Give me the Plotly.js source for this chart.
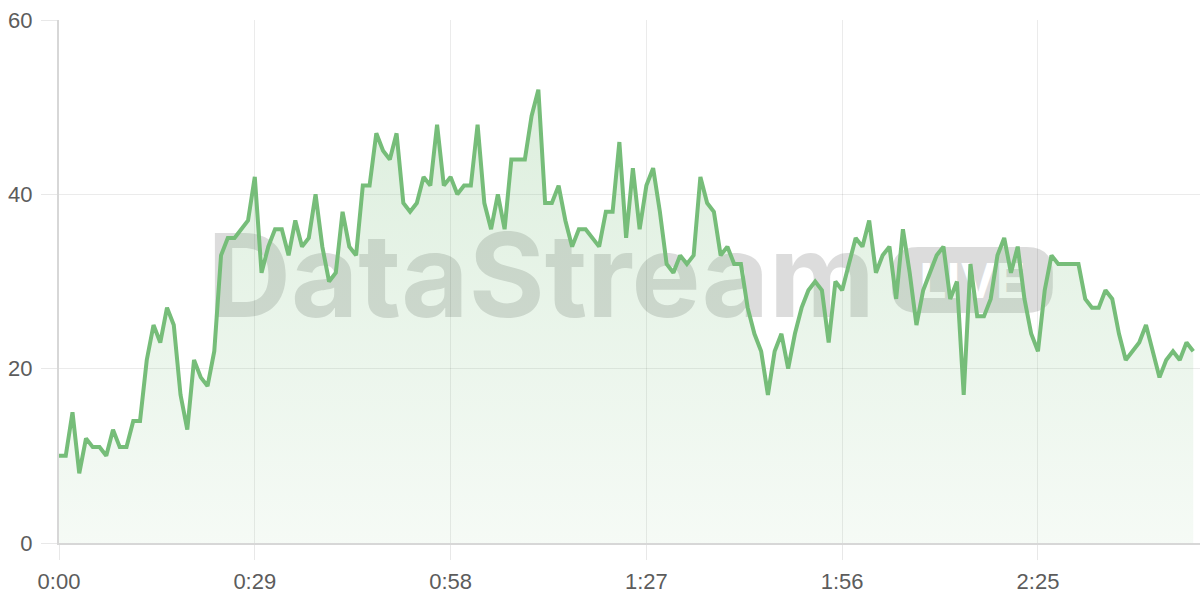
<!DOCTYPE html>
<html>
<head>
<meta charset="utf-8">
<script src="https://cdn.plot.ly/plotly-3.0.1.min.js"></script>
<style>
    html, body { margin: 0; padding: 0; background: #ffffff; }
    #live_plot { width: 1200px; height: 600px; }
</style>
</head>
<body>
<div id="live_plot"></div>
<script>
// values read per second off the stream (0:00 .. 2:48)
const streamValues = [
    10, 10, 15, 8, 12, 11, 11, 10, 13, 11,
    11, 14, 14, 21, 25, 23, 27, 25, 17, 13,
    21, 19, 18, 22, 33, 35, 35, 36, 37, 42,
    31, 34, 36, 36, 33, 37, 34, 35, 40, 34,
    30, 31, 38, 34, 33, 41, 41, 47, 45, 44,
    47, 39, 38, 39, 42, 41, 48, 41, 42, 40,
    41, 41, 48, 39, 36, 40, 36, 44, 44, 44,
    49, 52, 39, 39, 41, 37, 34, 36, 36, 35,
    34, 38, 38, 46, 35, 43, 36, 41, 43, 38,
    32, 31, 33, 32, 33, 42, 39, 38, 33, 34,
    32, 32, 27, 24, 22, 17, 22, 24, 20, 24,
    27, 29, 30, 29, 23, 30, 29, 32, 35, 34,
    37, 31, 33, 34, 28, 36, 31, 25, 29, 31,
    33, 34, 28, 30, 17, 32, 26, 26, 28, 33,
    35, 31, 34, 28, 24, 22, 29, 33, 32, 32,
    32, 32, 28, 27, 27, 29, 28, 24, 21, 22,
    23, 25, 22, 19, 21, 22, 21, 23, 22
];
// one sample per second
const streamSeconds = streamValues.map((v, i) => i);

// x ticks every 29 seconds
const xTickSeconds = [0, 29, 58, 87, 116, 145];
const xTickLabels = ["0:00", "0:29", "0:58", "1:27", "1:56", "2:25"];
const yTickValues = [0, 20, 40, 60];

const watermarkText = "DataStream";
const badgeText = "LIVE";

const lineGreen = "rgb(118,189,121)";
const tickFont = { family: "Liberation Sans, Arial, sans-serif", size: 22, color: "rgb(92,92,92)" };

// prepare trace in plotly format
var data = [{
    x: streamSeconds,
    y: streamValues,
    type: "scatter",
    mode: "lines",
    line: { color: lineGreen, width: 4, shape: "linear" },
    fill: "tozeroy",
    fillgradient: {
        type: "vertical",
        start: 0,
        stop: 52,
        colorscale: [[0, "rgba(118,189,121,0.07)"], [1, "rgba(118,189,121,0.25)"]]
    },
    hoverinfo: "skip"
}];

// rounded badge behind the LIVE text, in paper units
function roundedRect(x0, y0, x1, y1, rx, ry) {
    return "M " + (x0 + rx) + "," + y0 +
        " L " + (x1 - rx) + "," + y0 +
        " Q " + x1 + "," + y0 + " " + x1 + "," + (y0 + ry) +
        " L " + x1 + "," + (y1 - ry) +
        " Q " + x1 + "," + y1 + " " + (x1 - rx) + "," + y1 +
        " L " + (x0 + rx) + "," + y1 +
        " Q " + x0 + "," + y1 + " " + x0 + "," + (y1 - ry) +
        " L " + x0 + "," + (y0 + ry) +
        " Q " + x0 + "," + y0 + " " + (x0 + rx) + "," + y0 + " Z";
}

// prepare graph layout in plotly format
const layout = {
    width: 1200,
    height: 600,
    margin: { l: 59, r: 0, t: 20, b: 57 },
    paper_bgcolor: "#ffffff",
    plot_bgcolor: "#ffffff",
    showlegend: false,
    hovermode: false,
    xaxis: {
        range: [0, 169],
        tickmode: "array",
        tickvals: xTickSeconds,
        ticktext: xTickLabels,
        tickfont: tickFont,
        ticks: "outside",
        ticklen: 15,
        tickcolor: "rgb(232,232,232)",
        ticklabelstandoff: 3,
        showgrid: true,
        gridcolor: "rgba(0,0,0,0.08)",
        gridwidth: 1,
        showline: true,
        linecolor: "rgb(215,215,215)",
        linewidth: 2,
        zeroline: false,
        fixedrange: true
    },
    yaxis: {
        range: [0, 60],
        tickmode: "array",
        tickvals: yTickValues,
        tickfont: tickFont,
        ticks: "outside",
        ticklen: 16,
        tickcolor: "rgb(232,232,232)",
        ticklabelstandoff: 4,
        showgrid: true,
        gridcolor: "rgba(0,0,0,0.08)",
        gridwidth: 1,
        showline: true,
        linecolor: "rgb(215,215,215)",
        linewidth: 2,
        zeroline: false,
        fixedrange: true
    },
    shapes: [
        {
            type: "rect", layer: "between", xref: "paper", yref: "paper",
            x0: 0.10, x1: 0.745, y0: 0.42, y1: 0.62,
            line: { width: 0 }, fillcolor: "rgba(0,0,0,0)",
            label: {
                text: watermarkText,
                textposition: "middle center",
                font: { family: "Inter, Open Sans, sans-serif", size: 116, weight: 700, color: "rgba(110,110,110,0.24)" }
            }
        },
        {
            type: "path", layer: "between", xref: "paper", yref: "paper",
            path: roundedRect(0.730, 0.440, 0.871, 0.566, 0.023, 0.05),
            line: { width: 0 }, fillcolor: "rgba(110,110,110,0.24)"
        },
        {
            type: "rect", layer: "between", xref: "paper", yref: "paper",
            x0: 0.730, x1: 0.871, y0: 0.440, y1: 0.566,
            line: { width: 0 }, fillcolor: "rgba(0,0,0,0)",
            label: {
                text: badgeText,
                textposition: "middle center",
                font: { family: "Inter, Open Sans, sans-serif", size: 48, weight: 700, color: "#ffffff" }
            }
        }
    ]
};

// create plot
Plotly.newPlot("live_plot", data, layout, { staticPlot: true, displayModeBar: false });
</script>
</body>
</html>
